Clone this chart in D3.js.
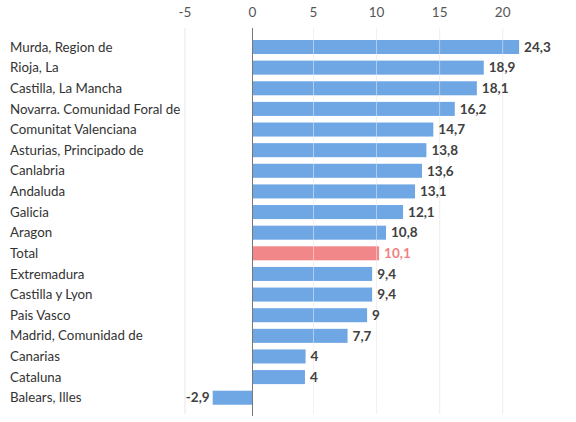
<!DOCTYPE html>
<html><head><meta charset="utf-8">
<script src="https://cdn.jsdelivr.net/npm/d3@7"></script>
<style>body{margin:0;background:#fff}svg{display:block;font-family:Lato,"Noto Sans",sans-serif}</style>
</head><body><div id="c"></div>
<script>
const categories = ["Murda, Region de","Rioja, La","Castilla, La Mancha","Novarra. Comunidad Foral de","Comunitat Valenciana","Asturias, Principado de","Canlabria","Andaluda","Galicia","Aragon","Total","Extremadura","Castilla y Lyon","Pais Vasco","Madrid, Comunidad de","Canarias","Cataluna","Balears, Illes"];
// bar lengths as drawn
const values = [21.3,18.5,17.95,16.2,14.5,13.95,13.6,13.05,12.1,10.75,10.2,9.65,9.65,9.25,7.7,4.35,4.3,-2.95];
// printed value labels
const valueLabels = ["24,3","18,9","18,1","16,2","14,7","13,8","13,6","13,1","12,1","10,8","10,1","9,4","9,4","9","7,7","4","4","-2,9"];
const ticks = [-5,0,5,10,15,20];
const highlight = "Total";

const W=576,H=422;
const svg=d3.select("#c").append("svg").attr("width",W).attr("height",H);
const x=d3.scaleLinear().domain([-5,0,5,20]).range([185,252.5,313.5,502.7]);
const step=20.63, p=0.32;
const y=d3.scaleBand().domain(categories).range([40-p*step,40-p*step+step*(categories.length+p)]).paddingInner(p).paddingOuter(p);

svg.append("g").selectAll("line").data(ticks.filter(t=>t!==0)).join("line")
  .attr("x1",d=>x(d)).attr("x2",d=>x(d)).attr("y1",28).attr("y2",414)
  .attr("stroke","#e6e6e6").attr("stroke-width",1);
svg.append("g").selectAll("text").data(ticks).join("text")
  .attr("x",d=>x(d)).attr("y",17).attr("text-anchor","middle")
  .attr("font-size",13.5).attr("fill","#555").text(d=>d);
svg.append("g").selectAll("rect").data(categories).join("rect")
  .attr("x",(d,i)=>x(Math.min(0,values[i])))
  .attr("width",(d,i)=>Math.abs(x(values[i])-x(0)))
  .attr("y",d=>y(d)).attr("height",y.bandwidth())
  .attr("fill",d=>d===highlight?"#f2878a":"#6fa6e4");
svg.append("g").selectAll("line").data(ticks.filter(t=>t>0)).join("line")
  .attr("x1",d=>x(d)).attr("x2",d=>x(d)).attr("y1",28).attr("y2",414)
  .attr("stroke","#ffffff").attr("stroke-opacity",0.45).attr("stroke-width",1);
svg.append("line").attr("x1",x(0)).attr("x2",x(0)).attr("y1",28).attr("y2",416)
  .attr("stroke","#777").attr("stroke-width",1);
svg.append("g").selectAll("text").data(categories).join("text")
  .attr("x",10).attr("y",d=>y(d)+y.bandwidth()/2).attr("dy","0.35em")
  .attr("font-size",13.3).attr("fill","#333").text(d=>d);
svg.append("g").selectAll("text").data(categories).join("text")
  .attr("x",(d,i)=>values[i]<0?x(values[i])-3:x(values[i])+5)
  .attr("text-anchor",(d,i)=>values[i]<0?"end":"start")
  .attr("y",d=>y(d)+y.bandwidth()/2).attr("dy","0.35em")
  .attr("font-size",13.5).attr("font-weight","bold")
  .attr("fill",d=>d===highlight?"#f08080":"#404040")
  .text((d,i)=>valueLabels[i]);
</script></body></html>
